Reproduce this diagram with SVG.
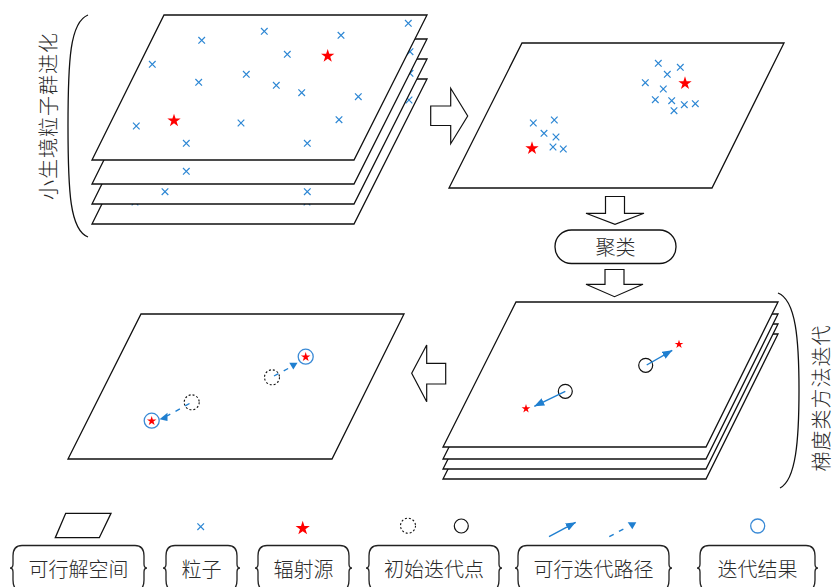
<svg xmlns="http://www.w3.org/2000/svg" xmlns:xlink="http://www.w3.org/1999/xlink" width="833" height="587" viewBox="0 0 833 587">
  <style>
    .plane { fill: #ffffff; stroke: #111111; stroke-width: 1.3; stroke-linejoin: miter; }
    .cross { fill: none; stroke: #2d87d4; stroke-width: 1.2; }
    .star { fill: #ff0000; }
    .block { fill: #ffffff; stroke: #111111; stroke-width: 1.2; stroke-linejoin: miter; }
    .label { font-family: "Noto Sans CJK SC", "Noto Sans", sans-serif; font-size: 20px; font-weight: 300; fill: #2a2a2a; text-anchor: middle; dominant-baseline: central; }
    .brace { fill: none; stroke: #111111; stroke-width: 1.3; }
    .box { fill: #ffffff; stroke: #222222; stroke-width: 1.3; }
    .start { fill: none; stroke: #111111; stroke-width: 1.2; }
    .start-dash { fill: none; stroke: #111111; stroke-width: 1.1; stroke-dasharray: 2 2; }
    .result { fill: none; stroke: #3a8ad6; stroke-width: 1.3; }
    .path-solid { fill: none; stroke: #1f7fd0; stroke-width: 1.4; }
    .path-dash { fill: none; stroke: #1f7fd0; stroke-width: 1.4; stroke-dasharray: 5 6; }
    .head { fill: #1f7fd0; }
  </style>
  <defs>
    <path id="x" d="M-3.3,-3.3 L3.3,3.3 M-3.3,3.3 L3.3,-3.3"/>
    <path id="s" d="M0,-1 L0.2245,-0.309 L0.951,-0.309 L0.363,0.118 L0.588,0.809 L0,0.382 L-0.588,0.809 L-0.363,0.118 L-0.951,-0.309 L-0.2245,-0.309 Z"/>
    <marker id="arrow" viewBox="0 0 10 8" refX="10" refY="4" markerWidth="10" markerHeight="8" markerUnits="userSpaceOnUse" orient="auto">
      <path d="M0,0 L10,4 L0,8 Z" fill="#1f7fd0"/>
    </marker>
  </defs>

  <rect width="833" height="587" fill="#ffffff"/>

  <!-- niche particle swarm evolution: stacked solution spaces -->
  <g id="niche-stack">
    <g id="niche-layer-4">
      <polygon class="plane" points="164,79 427,79 354,224 92,224"/>
      <g class="cross">
        <use href="#x" x="135" y="202"/>
        <use href="#x" x="307" y="202"/>
        <use href="#x" x="409" y="100"/>
      </g>
    </g>
    <g id="niche-layer-3">
      <polygon class="plane" points="164,59 427,59 354,204 92,204"/>
      <g class="cross">
        <use href="#x" x="165" y="191.7"/>
        <use href="#x" x="307.3" y="191.7"/>
        <use href="#x" x="410" y="73.3"/>
      </g>
    </g>
    <g id="niche-layer-2">
      <polygon class="plane" points="164,39 427,39 354,184 92,184"/>
      <g class="cross">
        <use href="#x" x="186.3" y="171.3"/>
        <use href="#x" x="410" y="51.7"/>
      </g>
    </g>
    <g id="niche-layer-1">
      <polygon class="plane" points="164,15 427,15 354,160 92,160"/>
      <g class="cross">
        <use href="#x" x="408.3" y="23.3"/>
        <use href="#x" x="201.7" y="40.3"/>
        <use href="#x" x="264.3" y="31.3"/>
        <use href="#x" x="341" y="35.3"/>
        <use href="#x" x="152.3" y="64.3"/>
        <use href="#x" x="287.3" y="54.3"/>
        <use href="#x" x="246.3" y="74.3"/>
        <use href="#x" x="198.7" y="82.3"/>
        <use href="#x" x="276.3" y="85.3"/>
        <use href="#x" x="301.7" y="92.7"/>
        <use href="#x" x="358.3" y="96.7"/>
        <use href="#x" x="136.3" y="126"/>
        <use href="#x" x="241" y="123"/>
        <use href="#x" x="339" y="119.7"/>
        <use href="#x" x="186.3" y="143.3"/>
        <use href="#x" x="307.3" y="143.3"/>
      </g>
      <use href="#s" class="star" transform="translate(327.7,56) scale(7)"/>
      <use href="#s" class="star" transform="translate(174,120.7) scale(7)"/>
    </g>
  </g>

  <g id="niche-label">
    <path class="brace" d="M88,15 C70,22 68,60 68,126 C68,192 70,230 88,237"/>
    <text class="label" transform="translate(47,116) rotate(-90)" letter-spacing="1">小生境粒子群进化</text>
  </g>

  <!-- clustered particles -->
  <g id="clustered-space">
    <polygon class="plane" points="522,43 784,43 712,188 449,188"/>
    <g class="cross">
      <use href="#x" x="658.3" y="63.3"/>
      <use href="#x" x="680.3" y="67.3"/>
      <use href="#x" x="667.3" y="74.3"/>
      <use href="#x" x="645.3" y="82.7"/>
      <use href="#x" x="663.3" y="89"/>
      <use href="#x" x="655.3" y="99.7"/>
      <use href="#x" x="671.7" y="100.7"/>
      <use href="#x" x="684.3" y="104.7"/>
      <use href="#x" x="695.3" y="103.7"/>
      <use href="#x" x="674" y="110.7"/>
      <use href="#x" x="533.3" y="123"/>
      <use href="#x" x="554.3" y="120"/>
      <use href="#x" x="544" y="133.3"/>
      <use href="#x" x="556" y="137"/>
      <use href="#x" x="553" y="147"/>
      <use href="#x" x="563.3" y="149"/>
    </g>
    <use href="#s" class="star" transform="translate(685,83.3) scale(7)"/>
    <use href="#s" class="star" transform="translate(532,148.3) scale(7)"/>
  </g>

  <g id="cluster-step">
    <rect x="555" y="230" width="121" height="33.5" rx="16.5" ry="16.5" fill="#ffffff" stroke="#111111" stroke-width="1.3"/>
    <text class="label" x="615.5" y="246.5">聚类</text>
  </g>

  <!-- gradient iteration: stacked solution spaces -->
  <g id="gradient-stack">
    <polygon class="plane" points="516,334 778,334 706,479 443,479"/>
    <polygon class="plane" points="516,324 778,324 706,469 443,469"/>
    <polygon class="plane" points="516,314 778,314 706,459 443,459"/>
    <polygon class="plane" points="516,302 778,302 706,447 443,447"/>
    <circle class="start" cx="645.7" cy="365.3" r="7"/>
    <circle class="start" cx="565.3" cy="391.3" r="7"/>
    <use href="#s" class="star" transform="translate(679,344.3) scale(4.6)"/>
    <use href="#s" class="star" transform="translate(526,408.7) scale(4.6)"/>
    <line class="path-solid" x1="646.7" y1="365" x2="672.3" y2="350.3" marker-end="url(#arrow)"/>
    <line class="path-solid" x1="565.3" y1="391.3" x2="534.3" y2="406.3" marker-end="url(#arrow)"/>
  </g>

  <g id="gradient-label">
    <path class="brace" d="M778,293 C796,300 799,340 799,390 C799,440 796,480 780,488"/>
    <text class="label" transform="translate(820,398) rotate(-90)" letter-spacing="1">梯度类方法迭代</text>
  </g>

  <!-- iteration results -->
  <g id="result-space">
    <polygon class="plane" points="141,314 404,314 332,459 68,459"/>
    <circle class="start-dash" cx="272" cy="377.3" r="7.5"/>
    <circle class="start-dash" cx="191.7" cy="402.3" r="7.5"/>
    <line class="path-dash" x1="274" y1="376" x2="290" y2="367.5"/>
    <polygon class="head" points="289.3,362.7 297.5,362.7 293.3,369.5"/>
    <line class="path-dash" x1="189.5" y1="403.5" x2="167" y2="416"/>
    <polygon class="head" points="159.5,419.3 167.5,412.8 167.5,421"/>
    <circle class="result" cx="305.7" cy="356.7" r="7.5"/>
    <circle class="result" cx="151.7" cy="420.7" r="7.5"/>
    <use href="#s" class="star" transform="translate(305.7,357) scale(5)"/>
    <use href="#s" class="star" transform="translate(151.7,421) scale(5)"/>
  </g>

  <!-- flow between the stages -->
  <g id="connectors">
    <path class="block" d="M430.7,106 H450.7 V88.3 L467.7,116 L450.7,143.7 V125.5 H430.7 Z"/>
    <path class="block" d="M605.5,196.5 H624.5 V213.3 H644 L615,224.3 L586,213.3 H605.5 Z"/>
    <path class="block" d="M605,269.5 H624 V284.3 H643 L614.5,296.7 L586,284.3 H605 Z"/>
    <path class="block" d="M445.7,363.3 V384 H426.7 V401.7 L411.7,373.3 L426.7,345 V363.3 Z"/>
  </g>

  <!-- legend -->
  <g id="legend">
    <g id="legend-space">
      <polygon class="plane" points="65.7,513.3 111,513.3 99.3,537.7 55.3,537.7"/>
      <path class="box" d="M22,545.5 H135 Q144,545.5 144,556 V564 Q144,568 147,568 Q144,568 144,572 V580 Q144,591 135,591 H22 Q13,591 13,580 V572 Q13,568 10,568 Q13,568 13,564 V556 Q13,545.5 22,545.5 Z"/>
      <text class="label" x="78.5" y="568">可行解空间</text>
    </g>
    <g id="legend-particle">
      <use href="#x" class="cross" x="200.7" y="526.7"/>
      <path class="box" d="M175,545.5 H228 Q237,545.5 237,556 V564 Q237,568 240,568 Q237,568 237,572 V580 Q237,591 228,591 H175 Q166,591 166,580 V572 Q166,568 163,568 Q166,568 166,564 V556 Q166,545.5 175,545.5 Z"/>
      <text class="label" x="201.5" y="568">粒子</text>
    </g>
    <g id="legend-source">
      <use href="#s" class="star" transform="translate(302.7,528.3) scale(7.5)"/>
      <path class="box" d="M267,545.5 H340 Q349,545.5 349,556 V564 Q349,568 352,568 Q349,568 349,572 V580 Q349,591 340,591 H267 Q258,591 258,580 V572 Q258,568 255,568 Q258,568 258,564 V556 Q258,545.5 267,545.5 Z"/>
      <text class="label" x="303.5" y="568">辐射源</text>
    </g>
    <g id="legend-start">
      <circle class="start-dash" cx="408" cy="525.7" r="7.5"/>
      <circle class="start" cx="461.3" cy="526" r="7"/>
      <path class="box" d="M378,545.5 H490 Q499,545.5 499,556 V564 Q499,568 502,568 Q499,568 499,572 V580 Q499,591 490,591 H378 Q369,591 369,580 V572 Q369,568 366,568 Q369,568 369,564 V556 Q369,545.5 378,545.5 Z"/>
      <text class="label" x="434" y="568">初始迭代点</text>
    </g>
    <g id="legend-path">
      <line class="path-solid" x1="549" y1="536.7" x2="575.7" y2="522.3" marker-end="url(#arrow)"/>
      <line class="path-dash" x1="609.3" y1="536.7" x2="628" y2="526.5"/>
      <polygon class="head" points="627.7,522.3 636.3,522.3 632.3,529.3"/>
      <path class="box" d="M527,545.5 H660 Q669,545.5 669,556 V564 Q669,568 672,568 Q669,568 669,572 V580 Q669,591 660,591 H527 Q518,591 518,580 V572 Q518,568 515,568 Q518,568 518,564 V556 Q518,545.5 527,545.5 Z"/>
      <text class="label" x="593.5" y="568">可行迭代路径</text>
    </g>
    <g id="legend-result">
      <circle class="result" cx="757.7" cy="526" r="7"/>
      <path class="box" d="M709,545.5 H806 Q815,545.5 815,556 V564 Q815,568 818,568 Q815,568 815,572 V580 Q815,591 806,591 H709 Q700,591 700,580 V572 Q700,568 697,568 Q700,568 700,564 V556 Q700,545.5 709,545.5 Z"/>
      <text class="label" x="757.5" y="568">迭代结果</text>
    </g>
  </g>
</svg>
